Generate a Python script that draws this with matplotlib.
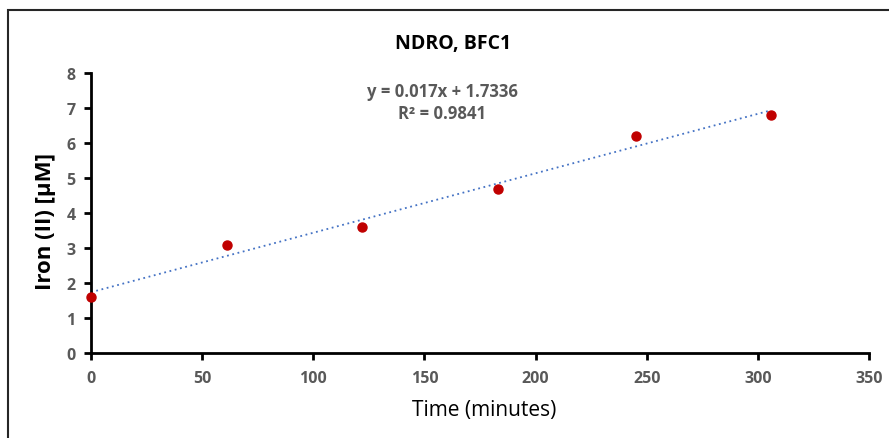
import matplotlib
matplotlib.use("Agg")
import matplotlib.pyplot as plt
import numpy as np
from matplotlib.patches import Rectangle

time_min = [0, 61, 122, 183, 245, 306]
iron_uM = [1.6, 3.1, 3.6, 4.7, 6.2, 6.8]
x_ticks = [0, 50, 100, 150, 200, 250, 300, 350]
y_ticks = [0, 1, 2, 3, 4, 5, 6, 7, 8]
title = "NDRO, BFC1"
eq_text = "y = 0.017x + 1.7336"
r2_text = "R² = 0.9841"

plt.rcParams['font.family'] = ['Open Sans', 'DejaVu Sans']

W, H = 889, 439
fig = plt.figure(figsize=(W/100, H/100), dpi=100)
fig.patch.set_facecolor('white')

# chart border (only top/left visible)
fig.patches.append(Rectangle((8/W, -0.1), 1.2, 1 - 11/H + 0.1, transform=fig.transFigure,
                             fill=False, edgecolor='#262626', linewidth=1.5))

ax = fig.add_axes([91/W, 1 - 354/H, (869-91)/W, (354-74)/H])
ax.set_xlim(0, 350)
ax.set_ylim(0, 8)

coef = np.polyfit(time_min, iron_uM, 1)
xs = np.array([0, max(time_min)])
ax.plot(xs, np.polyval(coef, xs), linestyle=(0, (1, 2)), color='#4472C4', linewidth=1.3, zorder=2)
ax.plot(time_min, iron_uM, 'o', color='#C00000', markersize=6.5, zorder=3, clip_on=False)

for s in ['top', 'right']:
    ax.spines[s].set_visible(False)
for s in ['left', 'bottom']:
    ax.spines[s].set_linewidth(2)
    ax.spines[s].set_color('black')

ax.set_xticks(x_ticks)
ax.set_yticks(y_ticks)
ax.tick_params(axis='both', direction='out', length=5, width=2, color='black',
               labelsize=11.5, labelcolor='#595959')
ax.tick_params(axis='x', pad=7)
ax.tick_params(axis='y', pad=6)
for lab in ax.get_xticklabels() + ax.get_yticklabels():
    lab.set_fontweight('bold')

fig.text(484/W, 1 - 411/H, "Time (minutes)", ha='center', va='center', fontsize=15, color='black')
fig.text(45/W, 1 - 221/H, "Iron (II) [µM]", ha='center', va='center', rotation=90,
         fontsize=16, fontweight='bold', color='black')

fig.text(453/W, 1 - 44/H, title, ha='center', va='center', fontsize=14, fontweight='bold', color='black')
fig.text(442/W, 1 - 92/H, eq_text, ha='center', va='center', fontsize=12, fontweight='bold', color='#595959')
fig.text(442/W, 1 - 114/H, r2_text, ha='center', va='center', fontsize=12, fontweight='bold', color='#595959')

fig.savefig("out.png", dpi=100)
